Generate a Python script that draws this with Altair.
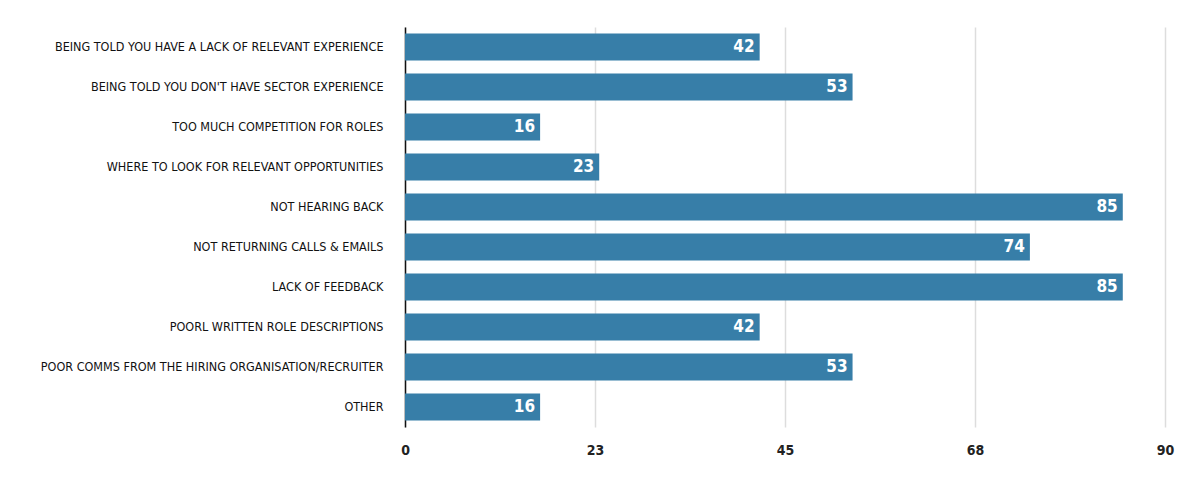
import altair as alt
import pandas as pd

categories = [
    "BEING TOLD YOU HAVE A LACK OF RELEVANT EXPERIENCE",
    "BEING TOLD YOU DON'T HAVE SECTOR EXPERIENCE",
    "TOO MUCH COMPETITION FOR ROLES",
    "WHERE TO LOOK FOR RELEVANT OPPORTUNITIES",
    "NOT HEARING BACK",
    "NOT RETURNING CALLS & EMAILS",
    "LACK OF FEEDBACK",
    "POORL WRITTEN ROLE DESCRIPTIONS",
    "POOR COMMS FROM THE HIRING ORGANISATION/RECRUITER",
    "OTHER",
]
values = [42, 53, 16, 23, 85, 74, 85, 42, 53, 16]
x_ticks = [0, 22.5, 45, 67.5, 90]

df = pd.DataFrame({"category": categories, "value": values})

FONT = "DejaVu Sans Condensed"

y = alt.Y("category:N", sort=categories,
          scale=alt.Scale(paddingInner=0.32, paddingOuter=0.16),
          axis=alt.Axis(title=None, labelFont=FONT, labelFontSize=12.5,
                        labelColor="#111", labelPadding=22, ticks=False,
                        domain=True, domainColor="#111", domainWidth=1.5,
                        labelLimit=500, grid=False))
x = alt.X("value:Q", scale=alt.Scale(domain=[0, 90], nice=False),
          axis=alt.Axis(title=None, values=x_ticks, format=".0f",
                        labelFont=FONT, labelFontSize=14, labelFontWeight="bold",
                        labelColor="#222", labelPadding=16, ticks=False,
                        labelFlush=False,
                        domain=False, grid=True, gridColor="#dddddd",
                        gridWidth=1.5))

bars = alt.Chart(df).mark_bar(color="#377ea8").encode(x=x, y=y)
text = alt.Chart(df).mark_text(align="right", baseline="middle", dx=-5,
                               color="white", font=FONT, fontSize=17,
                               fontWeight="bold").encode(
    x="value:Q", y=alt.Y("category:N", sort=categories), text="value:Q")

chart = (bars + text).properties(
    width=760, height=400,
    autosize=alt.AutoSizeParams(type="none"),
    padding={"left": 405, "top": 27, "right": 35, "bottom": 58},
    background="white",
).configure_view(stroke=None)

chart.save("out.html", embed_options={"renderer": "svg", "actions": False})
